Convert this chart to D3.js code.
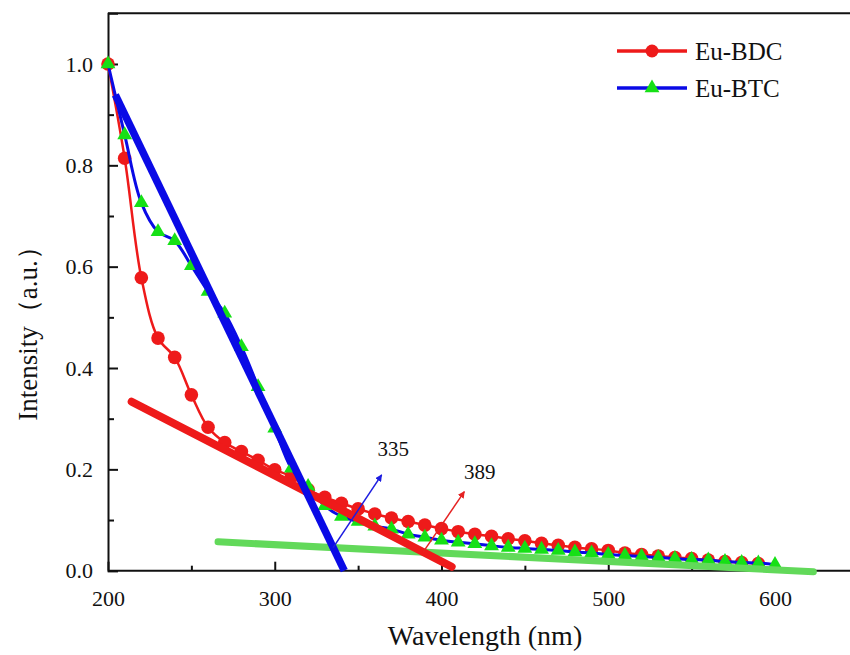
<!DOCTYPE html>
<html>
<head>
<meta charset="utf-8">
<script src="https://cdn.jsdelivr.net/npm/d3@7"></script>
<style>
  html, body { margin: 0; padding: 0; background: #fff; }
  svg { display: block; }
</style>
</head>
<body>
<svg id="chart" width="850" height="655"></svg>
<script>
// Excitation wavelengths (nm)
const wavelengthBDC = [200,210,220,230,240,250,260,270,280,290,300,310,320,330,340,350,360,370,380,390,
                       400,410,420,430,440,450,460,470,480,490,500,510,520,530,540,550,560,570,580,590];
const wavelengthBTC = [200,210,220,230,240,250,260,270,280,290,300,310,320,330,340,350,360,370,380,390,
                       400,410,420,430,440,450,460,470,480,490,500,510,520,530,540,550,560,570,580,590,600];

// Normalised intensities
const intensityBDC = [1.0,0.814,0.578,0.459,0.421,0.347,0.283,0.253,0.235,0.218,0.199,0.186,0.160,0.145,0.133,
                      0.122,0.112,0.104,0.097,0.090,0.083,0.077,0.072,0.068,0.063,0.059,0.054,0.050,0.046,0.043,
                      0.040,0.035,0.032,0.029,0.026,0.024,0.021,0.018,0.016,0.014];
const intensityBTC = [1.0,0.86,0.726,0.669,0.651,0.602,0.551,0.508,0.442,0.363,0.281,0.202,0.166,0.128,0.107,
                      0.097,0.088,0.082,0.072,0.066,0.060,0.056,0.053,0.049,0.046,0.044,0.042,0.040,0.037,0.035,
                      0.032,0.030,0.028,0.026,0.024,0.022,0.021,0.018,0.016,0.015,0.012];

// Tangent / baseline segments: [x, y] end points
const baselineFit = [[266, 0.057], [623, -0.002]];
const tangentBTC  = [[204.4, 0.939], [341.7, 0.0]];
const tangentBDC  = [[214.2, 0.3335], [406.1, 0.0079]];

// Band-edge annotations
const edgeLabels = ["335", "389"];
const edgeValues = [335, 389];

const seriesNames = ["Eu-BDC", "Eu-BTC"];
const xTicks = [200, 300, 400, 500, 600];
const xMinorTicks = [250, 350, 450, 550, 650];
const yTicks = [0.0, 0.2, 0.4, 0.6, 0.8, 1.0];
const yMinorTicks = [0.1, 0.3, 0.5, 0.7, 0.9];

const SERIF = "'Liberation Serif', 'Times New Roman', Times, 'DejaVu Serif', serif";
const svg = d3.select("#chart").attr("font-family", SERIF);
const plotLeft = 108, plotTop = 13.3, plotBottom = 570.7;
const x = d3.scaleLinear().domain([200, 650]).range([plotLeft, plotLeft + 450 * 1.6675]);
const y = d3.scaleLinear().domain([0, 1.1]).range([plotBottom, plotTop]);

const RED = "#ee1a1a", BLUE = "#0a0ae6", GREEN = "#16e016", LIGHTGREEN = "#62d95a";

// Baseline value at a given wavelength
function baselineAt(w) {
  const [[x0, y0], [x1, y1]] = baselineFit;
  return y0 + (y1 - y0) * (w - x0) / (x1 - x0);
}

// Frame
const frame = svg.append("g");
frame.append("line").attr("x1", plotLeft).attr("x2", x(650)).attr("y1", plotTop).attr("y2", plotTop)
  .attr("stroke", "#111").attr("stroke-width", 2);
frame.append("line").attr("x1", x(650)).attr("x2", x(650)).attr("y1", plotTop).attr("y2", plotBottom)
  .attr("stroke", "#111").attr("stroke-width", 2);

// Axes with inward ticks
const xAxis = svg.append("g").attr("transform", `translate(0,${plotBottom})`)
  .call(d3.axisBottom(x).tickValues(xTicks).tickSize(-9).tickPadding(20).tickFormat(d3.format("d")));
const xMinor = svg.append("g").attr("transform", `translate(0,${plotBottom})`)
  .call(d3.axisBottom(x).tickValues(xMinorTicks).tickSize(-5).tickFormat(""));
const yAxis = svg.append("g").attr("transform", `translate(${plotLeft},0)`)
  .call(d3.axisLeft(y).tickValues(yTicks).tickSize(-10).tickPadding(15).tickFormat(d3.format(".1f")));
const yMinor = svg.append("g").attr("transform", `translate(${plotLeft},0)`)
  .call(d3.axisLeft(y).tickValues(yMinorTicks).tickSize(-6).tickFormat(""));

[xAxis, xMinor, yAxis, yMinor].forEach(g => {
  g.attr("font-family", SERIF).attr("font-size", 22);
  g.select(".domain").attr("stroke", "#111").attr("stroke-width", 2);
  g.selectAll(".tick line").attr("stroke", "#111").attr("stroke-width", 2);
  g.selectAll(".tick text").attr("fill", "#111");
});
xAxis.select(".domain").attr("d", `M${plotLeft},0H850`);
xMinor.select(".domain").remove();
yMinor.select(".domain").remove();

// Axis titles
svg.append("text").attr("x", 485).attr("y", 645).attr("text-anchor", "middle")
  .attr("font-size", 28).attr("fill", "#111").text("Wavelength (nm)");
svg.append("text").attr("transform", "translate(37,327) rotate(-90)").attr("text-anchor", "middle")
  .attr("font-size", 27).attr("fill", "#111").text("Intensity（a.u.）");

const line = d3.line().x(d => x(d[0])).y(d => y(d[1])).curve(d3.curveCatmullRom.alpha(0.5));
const bdc = wavelengthBDC.map((w, i) => [w, intensityBDC[i]]);
const btc = wavelengthBTC.map((w, i) => [w, intensityBTC[i]]);

const tri = d3.symbol().type(d3.symbolTriangle).size(95);

// Eu-BDC series
svg.append("path").datum(bdc).attr("d", line).attr("fill", "none")
  .attr("stroke", RED).attr("stroke-width", 2.5);
svg.append("g").selectAll("circle").data(bdc).join("circle")
  .attr("cx", d => x(d[0])).attr("cy", d => y(d[1])).attr("r", 6.8).attr("fill", RED);

// Eu-BTC series
svg.append("path").datum(btc).attr("d", line).attr("fill", "none")
  .attr("stroke", BLUE).attr("stroke-width", 3);
svg.append("g").selectAll("path").data(btc).join("path")
  .attr("d", tri).attr("transform", d => `translate(${x(d[0])},${y(d[1])})`).attr("fill", GREEN);

// Fit lines
const seg = d3.line().x(d => x(d[0])).y(d => y(d[1]));
svg.append("path").datum(baselineFit).attr("d", seg).attr("stroke", LIGHTGREEN)
  .attr("stroke-width", 7).attr("stroke-linecap", "round");
svg.append("path").datum(tangentBDC).attr("d", seg).attr("stroke", RED)
  .attr("stroke-width", 8).attr("stroke-linecap", "round");
svg.append("path").datum(tangentBTC).attr("d", seg).attr("stroke", BLUE)
  .attr("stroke-width", 7.5).attr("stroke-linecap", "butt");

// Arrows marking the intersections
const defs = svg.append("defs");
[["headBlue", "#1c1ce0"], ["headRed", "#e52222"]].forEach(([id, c]) => {
  defs.append("marker").attr("id", id).attr("viewBox", "0 0 10 10").attr("refX", 9).attr("refY", 5)
    .attr("markerWidth", 7).attr("markerHeight", 7).attr("orient", "auto")
    .attr("markerUnits", "userSpaceOnUse")
    .append("path").attr("d", "M0,0L10,5L0,10Z").attr("fill", c);
});
const arrowEnds = [[364.1, 0.189], [413.7, 0.156]];
const arrowColors = ["#1c1ce0", "#e52222"];
const arrowHeads = ["url(#headBlue)", "url(#headRed)"];
edgeValues.forEach((w, i) => {
  svg.append("line")
    .attr("x1", x(w)).attr("y1", y(baselineAt(w)))
    .attr("x2", x(arrowEnds[i][0])).attr("y2", y(arrowEnds[i][1]))
    .attr("stroke", arrowColors[i]).attr("stroke-width", 1.5)
    .attr("marker-end", arrowHeads[i]);
});
const labelPos = [[371, 0.226], [423, 0.181]];
edgeLabels.forEach((t, i) => {
  svg.append("text").attr("x", x(labelPos[i][0])).attr("y", y(labelPos[i][1]))
    .attr("text-anchor", "middle").attr("font-size", 21).attr("fill", "#111").text(t);
});

// Legend
const legend = svg.append("g");
const legY = [51, 88];
legend.append("line").attr("x1", 617).attr("x2", 687).attr("y1", legY[0]).attr("y2", legY[0])
  .attr("stroke", RED).attr("stroke-width", 3.5);
legend.append("circle").attr("cx", 652).attr("cy", legY[0]).attr("r", 6.5).attr("fill", RED);
legend.append("line").attr("x1", 617).attr("x2", 687).attr("y1", legY[1]).attr("y2", legY[1])
  .attr("stroke", BLUE).attr("stroke-width", 3.5);
legend.append("path").attr("d", tri).attr("transform", `translate(652,${legY[1]})`).attr("fill", GREEN);
seriesNames.forEach((n, i) => {
  legend.append("text").attr("x", 695).attr("y", legY[i] + 8.5).attr("font-size", 25)
    .attr("fill", "#111").text(n);
});
</script>
</body>
</html>
